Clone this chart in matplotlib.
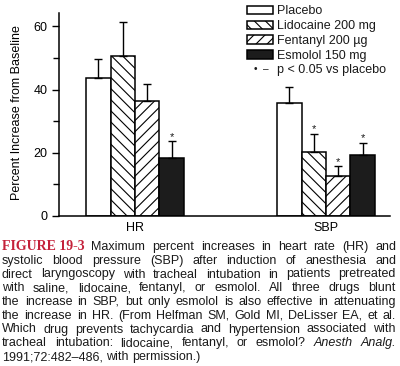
import matplotlib
matplotlib.use('Agg')
import matplotlib.pyplot as plt
import numpy as np
from matplotlib.legend_handler import HandlerBase
from matplotlib.lines import Line2D
from matplotlib.text import Text

plt.rcParams['font.family'] = ['Liberation Sans', 'DejaVu Sans']
plt.rcParams['hatch.linewidth'] = 0.8
plt.rcParams['text.color'] = '#1a1a1a'

# data
groups = ['HR', 'SBP']
treatments = ['Placebo', 'Lidocaine 200 mg', 'Fentanyl 200 µg', 'Esmolol 150 mg']
placebo = [43.6, 35.7]
lidocaine = [50.7, 20.2]
fentanyl = [36.4, 12.7]
esmolol = [18.5, 19.4]
placebo_err = [6.2, 5.1]
lidocaine_err = [10.6, 5.8]
fentanyl_err = [5.3, 3.1]
esmolol_err = [5.1, 3.8]
placebo_sig = [False, False]
lidocaine_sig = [False, True]
fentanyl_sig = [False, True]
esmolol_sig = [True, True]

fig_label = "FIGURE 19-3"
caption_lines = [
    "Maximum percent increases in heart rate (HR) and",
    "systolic blood pressure (SBP) after induction of anesthesia and",
    "direct laryngoscopy with tracheal intubation in patients pretreated",
    "with saline, lidocaine, fentanyl, or esmolol. All three drugs blunt",
    "the increase in SBP, but only esmolol is also effective in attenuating",
    "the increase in HR. (From Helfman SM, Gold MI, DeLisser EA, et al.",
    "Which drug prevents tachycardia and hypertension associated with",
    "tracheal intubation: lidocaine, fentanyl, or esmolol? Anesth Analg.",
    "1991;72:482\u2013486, with permission.)",
]

series = [placebo, lidocaine, fentanyl, esmolol]
errors = [placebo_err, lidocaine_err, fentanyl_err, esmolol_err]
sigs = [placebo_sig, lidocaine_sig, fentanyl_sig, esmolol_sig]
facecolors = ['white', 'white', 'white', '#1c1c1c']
hatches = [None, '\\\\\\', '///', None]

fig = plt.figure(figsize=(4, 3.66), dpi=100)
ax = fig.add_axes([59 / 400, 150 / 366, 331 / 400, 203 / 366])

x = np.arange(len(groups))
width = 0.128
offsets = (np.arange(len(series)) - 1.5) * width

handles = []
for vals, errs, sig, fc, h, name, off in zip(series, errors, sigs, facecolors,
                                              hatches, treatments, offsets):
    bars = ax.bar(x + off, vals, width, color=fc, edgecolor='black',
                  linewidth=1.1, hatch=h, label=name)
    handles.append(bars)
    ax.errorbar(x + off, vals, yerr=[np.zeros(len(vals)), errs], fmt='none',
                ecolor='black', elinewidth=1, capsize=3, capthick=1)
    for xi, v, e, s in zip(x + off, vals, errs, sig):
        if s:
            ax.text(xi, v + e + 0.4, '*', ha='center', va='baseline', fontsize=8)

ax.set_xlim(-0.398, 1.335)
ax.set_ylim(0, 64.2)
ax.set_xticks(x)
ax.set_xticklabels(groups)
ax.set_yticks([0, 20, 40, 60])
ax.set_yticks([10, 30, 50], minor=True)
ax.tick_params(axis='y', which='major', length=5, width=1, pad=3.5, labelsize=9)
ax.tick_params(axis='y', which='minor', length=4, width=1)
ax.tick_params(axis='x', length=0, pad=4, labelsize=9)
for side in ['top', 'right']:
    ax.spines[side].set_visible(False)
for side in ['left', 'bottom']:
    ax.spines[side].set_linewidth(1.1)
ax.set_ylabel('Percent Increase from Baseline', fontsize=9)
ax.yaxis.set_label_coords(-0.108, 0.51)


class SigHandler(HandlerBase):
    def create_artists(self, legend, orig_handle, xdescent, ydescent,
                       width, height, fontsize, trans):
        t = Text(0.55 * width - xdescent, 0.5 * height - ydescent, '\u2022  \u2013',
                 ha='center', va='center', fontsize=fontsize * 0.8,
                 transform=trans)
        return [t]


sig_handle = Line2D([], [])
fig.legend(handles + [sig_handle], treatments + ['p < 0.05 vs placebo'],
           loc='upper left', bbox_to_anchor=(247 / 400, 1 - 5.5 / 366),
           frameon=False, borderpad=0, borderaxespad=0, handlelength=2.08,
           handleheight=0.68, handletextpad=0.35, labelspacing=0.22,
           fontsize=9, handler_map={sig_handle: SigHandler()})

# justified caption, figure label in red at the start of the first line
renderer = fig.canvas.get_renderer()
left_px, right_px = 2, 396
for k, line in enumerate(caption_lines):
    y = 1 - (250 + 13.75 * k) / 366
    texts = []
    if k == 0:
        texts.append(fig.text(0, y, fig_label, va='baseline', fontsize=10,
                              family='Liberation Serif', weight='bold',
                              color='#c4213a'))
    for w in line.split(' '):
        style = 'italic' if w in ('Anesth', 'Analg.') else 'normal'
        texts.append(fig.text(0, y, w, va='baseline', fontsize=9, style=style))
    widths = [t.get_window_extent(renderer).width for t in texts]
    if k == len(caption_lines) - 1:
        gap = 3.5
    else:
        gap = (right_px - left_px - sum(widths)) / (len(texts) - 1)
    pos = left_px
    for t, w in zip(texts, widths):
        t.set_x(pos / 400)
        pos += w + gap

fig.savefig('out.png', dpi=100)
